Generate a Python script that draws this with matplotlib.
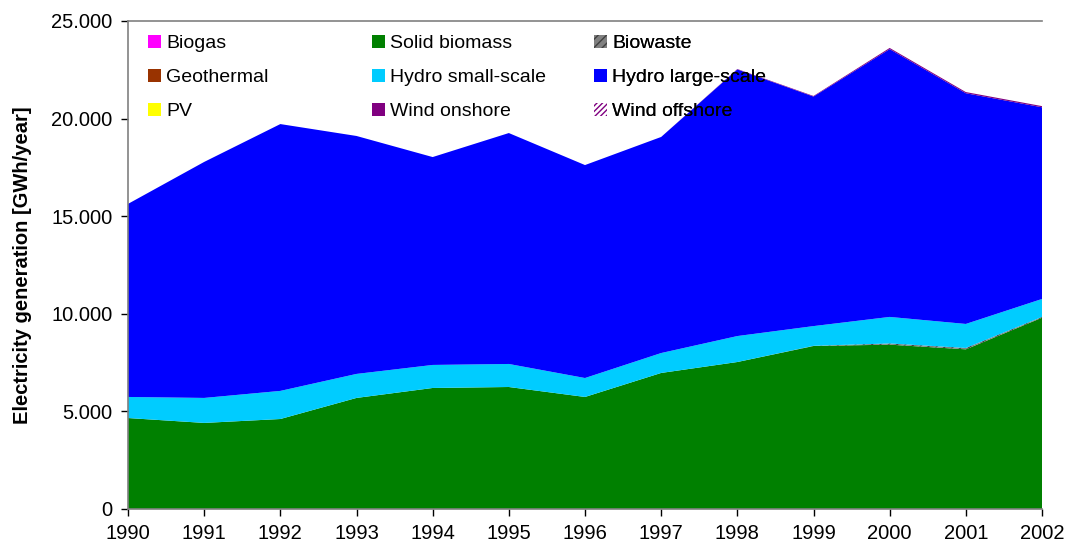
import matplotlib
matplotlib.use("Agg")
import matplotlib.pyplot as plt
import matplotlib.patches as mpatches
from matplotlib.ticker import FuncFormatter, MultipleLocator
import numpy as np

years = [1990, 1991, 1992, 1993, 1994, 1995, 1996, 1997, 1998, 1999, 2000, 2001, 2002]

biogas        = [0, 0, 0, 0, 0, 0, 0, 0, 0, 0, 0, 0, 0]
solid_biomass = [4660, 4410, 4610, 5690, 6200, 6250, 5740, 6970, 7530, 8350, 8420, 8180, 9800]
biowaste      = [0, 0, 0, 0, 0, 0, 0, 0, 0, 10, 60, 70, 40]
geothermal    = [0, 0, 0, 0, 0, 0, 0, 0, 0, 0, 0, 0, 0]
hydro_small   = [1080, 1280, 1440, 1230, 1180, 1180, 970, 1020, 1330, 1010, 1360, 1230, 920]
hydro_large   = [9890, 12090, 13670, 12190, 10650, 11830, 10910, 11070, 13660, 11760, 13720, 11820, 9820]
pv            = [0, 0, 0, 0, 0, 0, 0, 0, 0, 0, 0, 0, 0]
wind_onshore  = [0, 0, 0, 0, 0, 0, 0, 0, 20, 30, 60, 60, 60]
wind_offshore = [0, 0, 0, 0, 0, 0, 0, 0, 0, 0, 0, 0, 0]

labels = ["Biogas", "Solid biomass", "Biowaste", "Geothermal", "Hydro small-scale",
          "Hydro large-scale", "PV", "Wind onshore", "Wind offshore"]
series = [biogas, solid_biomass, biowaste, geothermal, hydro_small, hydro_large,
          pv, wind_onshore, wind_offshore]
colors = ["#FF00FF", "#008000", "#808080", "#993300", "#00CCFF", "#0000FF",
          "#FFFF00", "#800080", "#FFFFFF"]
hatches = [None, None, "////", None, None, None, None, None, "//////"]
hatch_colors = [None, None, "#404040", None, None, None, None, None, "#800080"]

plt.rcParams['font.family'] = ['Liberation Sans', 'DejaVu Sans']
plt.rcParams['hatch.linewidth'] = 1.0

fig = plt.figure(figsize=(10.66, 5.49), dpi=100)
ax = fig.add_axes([128/1066, 40/549, (1042-128)/1066, (509-21)/549])

polys = ax.stackplot(years, *series, colors=colors, linewidth=0)
for p, h, hc in zip(polys, hatches, hatch_colors):
    if h:
        p.set_hatch(h)
        p.set_edgecolor(hc)
        p.set_linewidth(0)

ax.set_xlim(1990, 2002)
ax.set_ylim(0, 25000)
ax.set_xticks(years)
ax.yaxis.set_major_locator(MultipleLocator(5000))
ax.yaxis.set_major_formatter(FuncFormatter(lambda v, p: f"{int(v):,}".replace(",", ".")))
ax.tick_params(axis='both', direction='out', length=5, width=1, colors='#000000',
               labelsize=14.5)
ax.tick_params(axis='x', pad=6)
ax.tick_params(axis='y', pad=6)
for s in ['left', 'bottom', 'top']:
    ax.spines[s].set_color('#808080')
    ax.spines[s].set_linewidth(1.2)
ax.spines['right'].set_visible(False)
ax.set_ylabel("Electricity generation [GWh/year]", fontsize=14.5, fontweight='bold', labelpad=14)

# legend in three columns
def mk(i):
    if hatches[i]:
        return mpatches.Patch(facecolor=colors[i], edgecolor=hatch_colors[i], hatch=hatches[i], linewidth=0)
    return mpatches.Patch(facecolor=colors[i], edgecolor='none')

cols = [[0, 3, 6], [1, 4, 7], [2, 5, 8]]
xs = [148, 372, 594]
for xpix, idxs in zip(xs, cols):
    leg = ax.legend([mk(i) for i in idxs], [labels[i] for i in idxs],
                    loc='upper left', bbox_to_anchor=(xpix/1066, 1 - 35/549),
                    bbox_transform=fig.transFigure, frameon=False, fontsize=14,
                    borderpad=0, borderaxespad=0, handlelength=0.65, handleheight=0.65,
                    handletextpad=0.3, labelspacing=0.85)
    ax.add_artist(leg)

fig.savefig("out.png", dpi=100)
